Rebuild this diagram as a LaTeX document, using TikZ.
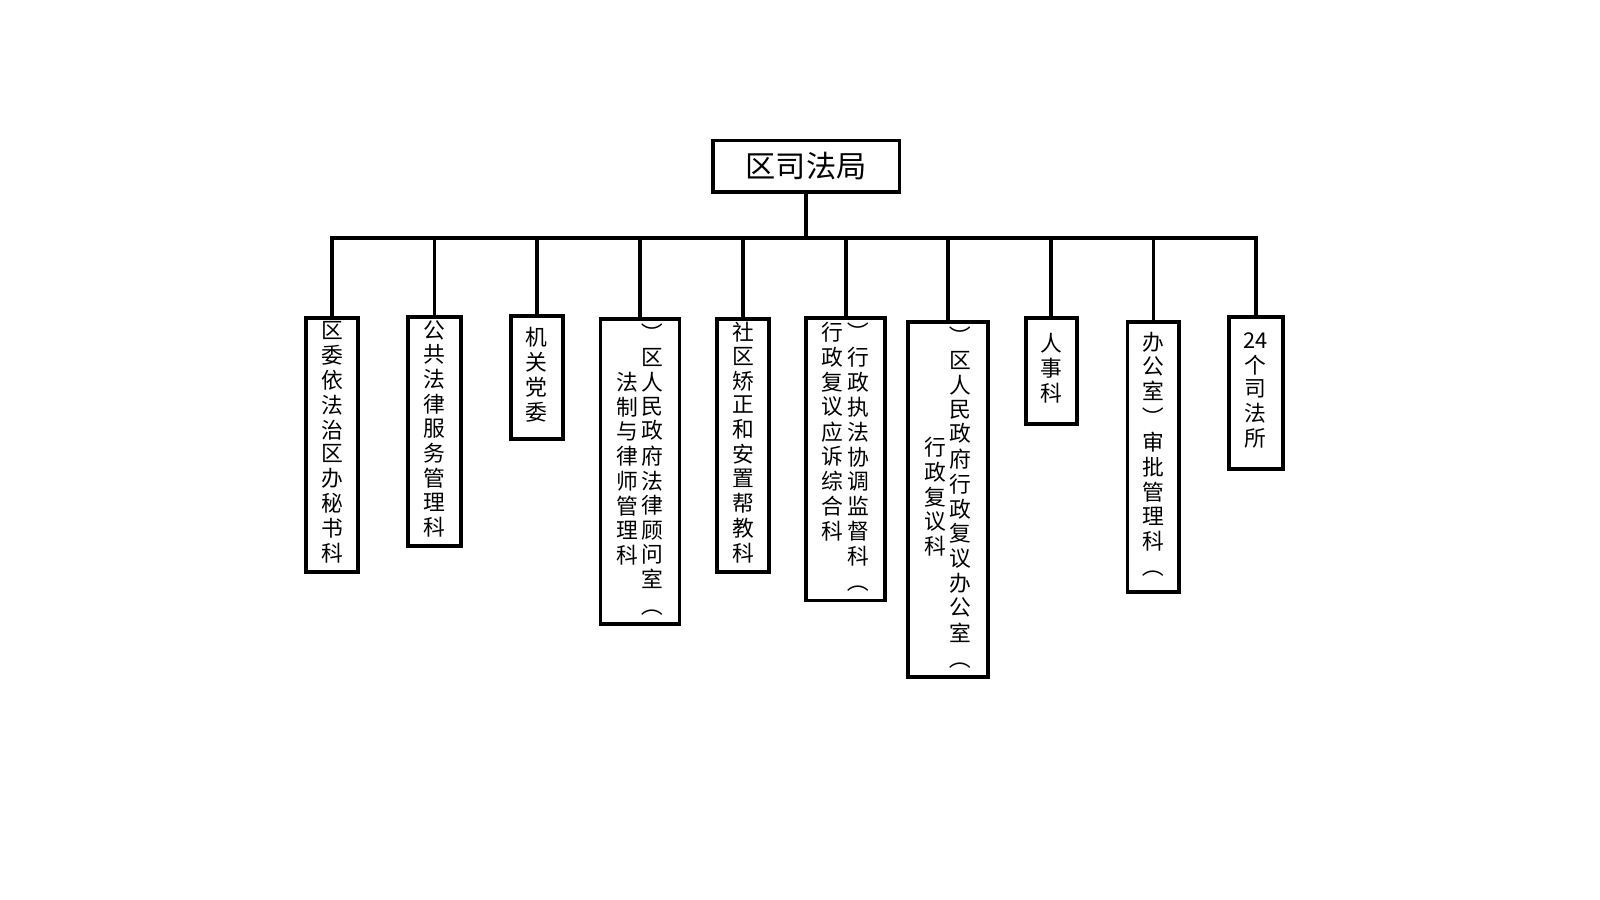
\documentclass[tikz,border=0pt]{standalone}
\usepackage{fontspec}
\setmainfont{Noto Sans CJK SC}
\usepackage{tikz}
\newcommand{\vcol}[1]{\begin{tabular}[t]{@{}c@{}}#1\end{tabular}}
\newcommand{\vcolc}[1]{\begin{tabular}[c]{@{}c@{}}#1\end{tabular}}
\newcommand{\lp}{\rotatebox[origin=c]{90}{（}}
\newcommand{\rp}{\rotatebox[origin=c]{90}{）}}
\begin{document}
\begin{tikzpicture}[x=0.01013cm,y=-0.01013cm,line width=1.1pt,
  dept/.style={draw,anchor=north,inner sep=1pt,font=\fontsize{6.2}{6.3}\selectfont},
  head/.style={draw,minimum width=1.87cm,minimum height=0.47cm,font=\fontsize{8.6}{9}\selectfont}]
\useasboundingbox (0,0) rectangle (1580,888.5);
\node[head] (bureau) at (796,164) {区司法局};
\coordinate (bus) at (796,235);
% departments
\node[dept,minimum width=0.52cm,minimum height=2.51cm] (d1) at (328,312) {\vcol{区\\委\\依\\法\\治\\区\\办\\秘\\书\\科}};
\node[dept,minimum width=0.53cm,minimum height=2.24cm] (d2) at (429,311) {\vcol{公\\共\\法\\律\\服\\务\\管\\理\\科}};
\node[dept,minimum width=0.52cm,minimum height=1.23cm] (d3) at (530,310) {\vcol{机\\关\\党\\委}};
\node[dept,minimum width=0.79cm,minimum height=2.86cm] (d4) at (632,313) {\vcolc{法\\制\\与\\律\\师\\管\\理\\科}\,\vcolc{\lp\\区\\人\\民\\政\\府\\法\\律\\顾\\问\\室\\\rp}};
\node[dept,minimum width=0.52cm,minimum height=2.49cm] (d5) at (734,313) {\vcol{社\\区\\矫\\正\\和\\安\\置\\帮\\教\\科}};
\node[dept,minimum width=0.79cm,minimum height=2.62cm] (d6) at (835,312) {\vcol{行\\政\\复\\议\\应\\诉\\综\\合\\科}\,\vcol{\lp\\行\\政\\执\\法\\协\\调\\监\\督\\科\\\rp}};
\node[dept,minimum width=0.8cm,minimum height=3.42cm] (d7) at (936,316) {\vcolc{行\\政\\复\\议\\科}\,\vcolc{\lp\\区\\人\\民\\政\\府\\行\\政\\复\\议\\办\\公\\室\\\rp}};
\node[dept,minimum width=0.51cm,minimum height=1.06cm] (d8) at (1038,312) {\vcol{人\\事\\科}};
\node[dept,minimum width=0.52cm,minimum height=2.7cm] (d9) at (1139,316) {\vcol{办\\公\\室\\\lp\\审\\批\\管\\理\\科\\\rp}};
\node[dept,minimum width=0.54cm,minimum height=1.52cm] (d10) at (1240,311) {\vcol{24\\个\\司\\法\\所}};
% connectors
\draw (bureau.south) -- (bus);
\draw (d1.north) |- (bus) -| (d10.north);
\foreach \n in {2,...,9}
  \draw (d\n.north) -- (d\n.north |- bus);
\end{tikzpicture}
\end{document}
